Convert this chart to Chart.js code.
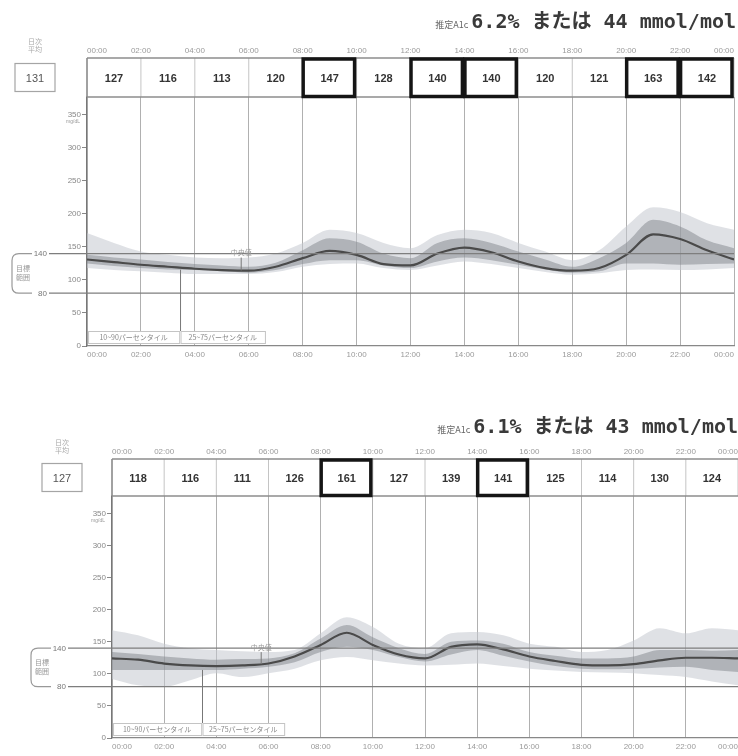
<!DOCTYPE html>
<html lang="ja">
<head>
<meta charset="utf-8">
<title>AGP</title>
<script src="https://cdn.jsdelivr.net/npm/chart.js@4.4.1/dist/chart.umd.min.js"></script>
<style>
  html, body { margin: 0; padding: 0; background: #fff; overflow: hidden; width: 738px; height: 756px; position: relative; }
  canvas { position: absolute; left: 0; }
  #agpTop { top: 0; }
  #agpBottom { top: 370px; }
</style>
</head>
<body>
<canvas id="agpTop" width="738" height="370"></canvas>
<canvas id="agpBottom" width="742" height="386"></canvas>
<script>
const hours = [0, 1, 2, 3, 4, 5, 6, 7, 8, 9, 10, 11, 12, 13, 14, 15, 16, 17, 18, 19, 20, 21, 22, 23, 24];
const tickHours = [0, 2, 4, 6, 8, 10, 12, 14, 16, 18, 20, 22, 24];
const timeLabels = ["00:00", "02:00", "04:00", "06:00", "08:00", "10:00", "12:00", "14:00", "16:00", "18:00", "20:00", "22:00", "00:00"];
const yTicks = [0, 50, 100, 150, 200, 250, 300, 350];
const targetRange = [140, 80];

// upper period
const p90A = [171, 156, 143, 138, 134, 133, 134, 140, 156, 176, 171, 156, 148, 168, 176, 171, 156, 143, 130, 145, 181, 210, 203, 186, 176];
const p75A = [138, 134, 131, 127, 124, 122, 120, 126, 145, 163, 158, 140, 133, 156, 163, 156, 143, 131, 120, 133, 156, 191, 181, 160, 148];
const p50A = [131, 127, 123, 120, 117, 115, 114, 120, 133, 144, 138, 124, 122, 140, 149, 142, 128, 118, 114, 118, 138, 169, 162, 145, 131];
const p25A = [125, 121, 118, 116, 115, 113, 111, 115, 124, 130, 130, 122, 118, 128, 134, 130, 123, 116, 111, 113, 125, 125, 123, 124, 125];
const p10A = [118, 115, 113, 111, 109, 109, 109, 112, 120, 124, 125, 118, 115, 122, 128, 124, 118, 112, 108, 110, 115, 116, 115, 116, 118];
const slotMeansA = [127, 116, 113, 120, 147, 128, 140, 140, 120, 121, 163, 142];
const dailyAvgA = 131;
const a1cA = "6.2%";
const mmolA = 44;

// lower period
const p90B = [168, 160, 147, 140, 137, 135, 134, 137, 163, 188, 173, 147, 140, 163, 165, 160, 147, 142, 134, 137, 152, 171, 163, 171, 168];
const p75B = [134, 131, 127, 124, 122, 123, 124, 132, 155, 176, 157, 140, 131, 150, 152, 147, 134, 128, 124, 124, 127, 137, 137, 136, 137];
const p50B = [124, 122, 116, 113, 112, 113, 116, 127, 145, 164, 145, 130, 124, 142, 146, 138, 127, 120, 114, 113, 115, 121, 125, 125, 124];
const p25B = [106, 106, 106, 106, 106, 108, 111, 118, 134, 142, 137, 126, 119, 130, 137, 128, 119, 112, 108, 107, 108, 110, 111, 106, 103];
const p10B = [92, 82, 80, 90, 101, 95, 101, 108, 121, 126, 121, 116, 113, 114, 116, 112, 108, 105, 103, 102, 101, 98, 95, 88, 82];
const slotMeansB = [118, 116, 111, 126, 161, 127, 139, 141, 125, 114, 130, 124];
const dailyAvgB = 127;
const a1cB = "6.1%";
const mmolB = 43;

const SANS = '"Liberation Sans", Arial, sans-serif';
const JP = '"Noto Sans CJK JP", sans-serif';

const valAt = (arr, h) => {
  const i = Math.min(Math.floor(h), hours.length - 2);
  return arr[i] + (arr[i + 1] - arr[i]) * (h - hours[i]);
};

function makeDecor(c) {
  return {
    id: 'agpDecor',
    afterDatasetsDraw(chart) {
      const { ctx, chartArea: a, scales: { x, y } } = chart;
      const hTop = a.top - c.headerH;
      const hMid = hTop + c.headerH / 2;
      const line = (x0, y0, x1, y1) => { ctx.beginPath(); ctx.moveTo(x0, y0); ctx.lineTo(x1, y1); ctx.stroke(); };
      ctx.save();

      // target range lines + bracket
      const lblR = a.left - c.tgtOff;
      ctx.strokeStyle = '#7e7e7e';
      ctx.lineWidth = 1.2;
      ctx.fillStyle = '#777';
      ctx.font = '8px ' + SANS;
      ctx.textAlign = 'right';
      ctx.textBaseline = 'middle';
      targetRange.forEach(v => {
        const py = y.getPixelForValue(v);
        line(lblR + 2, py, a.right, py);
        ctx.fillText(String(v), lblR, py + 0.5);
      });
      const y1 = y.getPixelForValue(140), y2 = y.getPixelForValue(80);
      const bx = lblR - 15, lx = bx - 20;
      ctx.strokeStyle = '#999';
      ctx.beginPath();
      ctx.moveTo(bx, y1);
      ctx.lineTo(lx + 7, y1);
      ctx.quadraticCurveTo(lx, y1, lx, y1 + 7);
      ctx.lineTo(lx, y2 - 7);
      ctx.quadraticCurveTo(lx, y2, lx + 7, y2);
      ctx.lineTo(bx, y2);
      ctx.stroke();
      ctx.textAlign = 'center';
      ctx.font = '7px ' + JP;
      ctx.fillStyle = '#999';
      const ym = (y1 + y2) / 2;
      ctx.fillText('目標', lx + 11, ym - 5);
      ctx.fillText('範囲', lx + 11, ym + 4);

      // unit
      ctx.font = '5px ' + SANS;
      ctx.textAlign = 'right';
      ctx.fillText('mg/dL', a.left - 7, y.getPixelForValue(350) + 7);

      // percentile legend boxes
      const lb = a.bottom - 3, lt = lb - 12;
      const boxes = [[0.04, 3.42, '10~90パーセンタイル'], [3.47, 6.6, '25~75パーセンタイル']];
      ctx.font = '7px ' + JP;
      ctx.textAlign = 'center';
      boxes.forEach(([h0, h1, t]) => {
        const x0 = x.getPixelForValue(h0), x1 = x.getPixelForValue(h1);
        ctx.fillStyle = '#fff';
        ctx.fillRect(x0, lt, x1 - x0, lb - lt);
        ctx.strokeStyle = '#c4c4c4';
        ctx.lineWidth = 1;
        ctx.strokeRect(x0 + 0.5, lt + 0.5, x1 - x0, lb - lt);
        ctx.fillStyle = '#888';
        ctx.fillText(t, (x0 + x1) / 2, (lt + lb) / 2 + 0.5);
      });
      ctx.strokeStyle = '#777';
      const px = x.getPixelForValue(3.47);
      line(px, lt, px, y.getPixelForValue(valAt(c.p25, 3.47)));

      // median label
      const mx = x.getPixelForValue(5.72);
      ctx.fillStyle = '#999';
      ctx.fillText('中央値', mx, y1 - 1);
      line(mx, y1 + 4, mx, y.getPixelForValue(valAt(c.p50, 5.72)));

      // header table of 2-hour means
      ctx.strokeStyle = '#c4c4c4';
      ctx.lineWidth = 1;
      tickHours.forEach(h => { const gx = x.getPixelForValue(h); line(gx, hTop, gx, a.top); });
      ctx.strokeStyle = '#8c8c8c';
      ctx.lineWidth = 1.5;
      line(a.left, hTop, a.right, hTop);
      line(a.left, a.top, a.right, a.top);
      line(a.left, hTop, a.left, a.top);
      ctx.font = 'bold 11px "Liberation Sans Narrow", ' + SANS;
      ctx.fillStyle = '#333';
      c.slotMeans.forEach((v, i) => {
        const x0 = x.getPixelForValue(i * 2), x1 = x.getPixelForValue(i * 2 + 2);
        ctx.fillText(String(v), (x0 + x1) / 2, hMid + 1);
        if (v >= 140) {
          ctx.strokeStyle = '#151515';
          ctx.lineWidth = 3.5;
          ctx.strokeRect(x0 + 0.5, hTop + 1, x1 - x0 - 2.5, c.headerH - 1.5);
        }
      });

      // time labels over header
      ctx.font = '8px ' + SANS;
      ctx.fillStyle = '#9a9a9a';
      tickHours.forEach((h, i) => {
        const w = ctx.measureText(timeLabels[i]).width;
        const tx = Math.min(Math.max(x.getPixelForValue(h), a.left + w / 2), a.right - w / 2);
        ctx.fillText(timeLabels[i], tx, hTop - 7);
      });

      // daily average box
      const ax = a.left - c.avgOff;
      ctx.strokeStyle = '#a5a5a5';
      ctx.lineWidth = 1.2;
      ctx.strokeRect(ax - 20, hMid - 14, 40, 28);
      ctx.font = '11px ' + SANS;
      ctx.fillStyle = '#555';
      ctx.fillText(String(c.dailyAvg), ax, hMid + 1);
      ctx.font = '7px ' + JP;
      ctx.fillStyle = '#aaa';
      ctx.fillText('日次', ax, hTop - 17);
      ctx.fillText('平均', ax, hTop - 9);

      // estimated A1c title
      const big = `${c.a1c} または ${c.mmol} mmol/mol`;
      ctx.textAlign = 'left';
      ctx.textBaseline = 'alphabetic';
      ctx.font = 'bold 20px "DejaVu Sans Mono", "Noto Sans CJK JP", monospace';
      const wBig = ctx.measureText(big).width;
      ctx.font = '9px ' + JP;
      const wSmall = ctx.measureText('推定A1c').width;
      const tBase = hTop - c.titleGap;
      const tx0 = c.titleRight - wBig - wSmall - 3;
      ctx.fillStyle = '#666';
      ctx.fillText('推定A1c', tx0, tBase);
      ctx.font = 'bold 20px "DejaVu Sans Mono", "Noto Sans CJK JP", monospace';
      ctx.fillStyle = '#3a3a3a';
      ctx.fillText(big, tx0 + wSmall + 3, tBase);

      ctx.restore();
    }
  };
}

function makeAgp(id, c) {
  const pts = arr => hours.map((h, i) => ({ x: h, y: arr[i] }));
  // higher order is painted first, so the median (order 0) ends up on top
  const band = (arr, fill, color, order) => ({
    data: pts(arr), fill, backgroundColor: color, borderWidth: 0, order,
    pointRadius: 0, cubicInterpolationMode: 'monotone'
  });
  return new Chart(document.getElementById(id), {
    type: 'line',
    data: {
      datasets: [
        band(c.p90, '+1', 'rgba(196,201,208,0.55)', 4),
        band(c.p10, false, 'transparent', 3),
        band(c.p75, '+1', 'rgba(130,134,140,0.5)', 2),
        band(c.p25, false, 'transparent', 1),
        { data: pts(c.p50), order: 0, borderColor: '#4a4a4a', borderWidth: 2.2, pointRadius: 0, fill: false, cubicInterpolationMode: 'monotone' }
      ]
    },
    options: {
      responsive: false,
      animation: false,
      devicePixelRatio: 1,
      layout: { padding: { left: 0, top: c.areaTop, right: c.padRight, bottom: c.padBottom } },
      plugins: { legend: { display: false }, tooltip: { enabled: false } },
      scales: {
        x: {
          type: 'linear', min: 0, max: 24,
          afterBuildTicks: s => { s.ticks = tickHours.map(v => ({ value: v })); },
          afterFit: s => { s.height = 16; },
          grid: { color: '#b0b0b0', lineWidth: 1, drawTicks: false },
          border: { color: '#888', width: 1.2 },
          ticks: {
            callback: (v, i) => timeLabels[i], font: { size: 8, family: SANS }, color: '#9a9a9a',
            maxRotation: 0, autoSkip: false, padding: 4, align: 'inner'
          }
        },
        y: {
          min: 0, max: 377,
          afterBuildTicks: s => { s.ticks = yTicks.map(v => ({ value: v })); },
          afterFit: s => { s.width = c.areaLeft; },
          grid: { drawOnChartArea: false, tickLength: 5, color: '#888' },
          border: { color: '#777', width: 1.2 },
          ticks: { font: { size: 8, family: SANS }, color: '#888', padding: 1 }
        }
      }
    },
    plugins: [makeDecor(c)]
  });
}

makeAgp('agpTop', {
  p10: p10A, p25: p25A, p50: p50A, p75: p75A, p90: p90A,
  slotMeans: slotMeansA, dailyAvg: dailyAvgA, a1c: a1cA, mmol: mmolA,
  areaLeft: 87, areaTop: 97, padRight: 1, padBottom: 8,
  headerH: 39, tgtOff: 40, avgOff: 52, titleGap: 30, titleRight: 736
});

makeAgp('agpBottom', {
  p10: p10B, p25: p25B, p50: p50B, p75: p75B, p90: p90B,
  slotMeans: slotMeansB, dailyAvg: dailyAvgB, a1c: a1cB, mmol: mmolB,
  areaLeft: 112, areaTop: 126, padRight: 2, padBottom: 2,
  headerH: 37, tgtOff: 46, avgOff: 50, titleGap: 26, titleRight: 738
});
</script>
</body>
</html>
